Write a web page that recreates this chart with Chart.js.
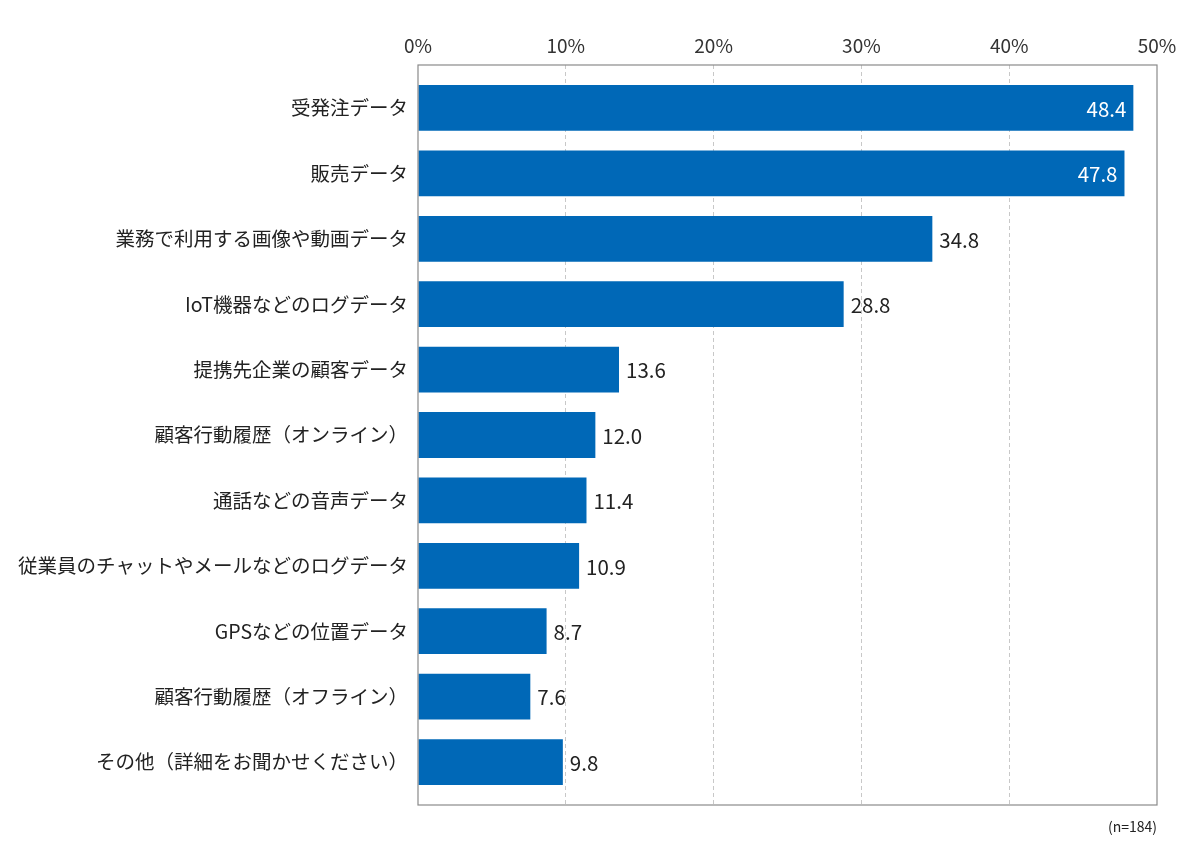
<!DOCTYPE html>
<html lang="ja">
  <head>
    <meta charset="UTF-8" />
    <title>データ種別</title>
    <script src="https://cdn.jsdelivr.net/npm/chart.js"></script>
    <style>
      html, body { margin: 0; padding: 0; background: #fff; }
      #wrap { width: 1200px; height: 858px; position: relative; }
    </style>
  </head>
  <body>
    <div id="wrap"><canvas id="chart"></canvas></div>
    <script>
      const categories = [
        '受発注データ',
        '販売データ',
        '業務で利用する画像や動画データ',
        'IoT機器などのログデータ',
        '提携先企業の顧客データ',
        '顧客行動履歴（オンライン）',
        '通話などの音声データ',
        '従業員のチャットやメールなどのログデータ',
        'GPSなどの位置データ',
        '顧客行動履歴（オフライン）',
        'その他（詳細をお聞かせください）'
      ];
      const values = [48.4, 47.8, 34.8, 28.8, 13.6, 12.0, 11.4, 10.9, 8.7, 7.6, 9.8];
      const xTicks = [0, 10, 20, 30, 40, 50];
      const note = '(n=184)';

      const FONT = '"Noto Sans CJK JP", "Noto Sans", sans-serif';
      const PLOT = { left: 418, top: 65, right: 1157, bottom: 805 };
      const EDGE = 0.657; // empty space above first / below last bar, in rows

      // box, value labels and sample size note
      const extras = {
        id: 'extras',
        afterDatasetsDraw(chart) {
          const { ctx, chartArea: a } = chart;
          ctx.save();
          ctx.strokeStyle = '#8a8a8a';
          ctx.lineWidth = 1.2;
          ctx.strokeRect(a.left, a.top, a.right - a.left, a.bottom - a.top);

          ctx.font = '20.5px ' + FONT;
          ctx.textBaseline = 'middle';
          chart.getDatasetMeta(0).data.forEach((bar, i) => {
            const v = values[i];
            const txt = v.toFixed(1);
            if (v > 40) {
              ctx.fillStyle = '#fff';
              ctx.textAlign = 'right';
              ctx.fillText(txt, bar.x - 7, bar.y + 1);
            } else {
              ctx.fillStyle = '#222';
              ctx.textAlign = 'left';
              ctx.fillText(txt, bar.x + 7, bar.y + 1);
            }
          });

          ctx.font = '14px ' + FONT;
          ctx.fillStyle = '#222';
          ctx.textAlign = 'right';
          ctx.fillText(note, a.right, a.bottom + 22);
          ctx.restore();
        }
      };

      new Chart(document.getElementById('chart'), {
        type: 'bar',
        data: {
          datasets: [{
            data: values.map((v, i) => ({ x: v, y: i })),
            backgroundColor: '#0068b7',
            borderWidth: 0,
            barPercentage: 0.70,
            categoryPercentage: 1
          }]
        },
        options: {
          indexAxis: 'y',
          responsive: true,
          maintainAspectRatio: false,
          animation: false,
          layout: { padding: { left: 0, top: 0, right: 1200 - PLOT.right, bottom: 858 - PLOT.bottom } },
          plugins: { legend: { display: false }, tooltip: { enabled: false } },
          scales: {
            x: {
              position: 'top',
              min: 0,
              max: 50,
              afterBuildTicks: (s) => { s.ticks = xTicks.map(v => ({ value: v })); },
              afterFit: (s) => { s.height = PLOT.top; },
              ticks: {
                font: { size: 19, family: FONT },
                color: '#333',
                padding: 8,
                callback: (v) => v + '%'
              },
              grid: {
                drawTicks: false,
                color: (c) => (c.tick && (c.tick.value === 0 || c.tick.value === 50)) ? 'rgba(0,0,0,0)' : '#c8c8c8',
                lineWidth: 1
              },
              border: { display: false, dash: [4, 3] }
            },
            y: {
              type: 'linear',
              reverse: true,
              offset: false,
              min: -EDGE,
              max: categories.length - 1 + EDGE,
              afterBuildTicks: (s) => { s.ticks = categories.map((c, i) => ({ value: i })); },
              afterFit: (s) => { s.width = PLOT.left; },
              ticks: {
                font: { size: 19.5, family: FONT },
                color: '#222',
                padding: 10,
                callback: (v) => categories[v]
              },
              grid: { display: false, drawTicks: false },
              border: { display: false }
            }
          }
        },
        plugins: [extras]
      });
    </script>
  </body>
</html>
